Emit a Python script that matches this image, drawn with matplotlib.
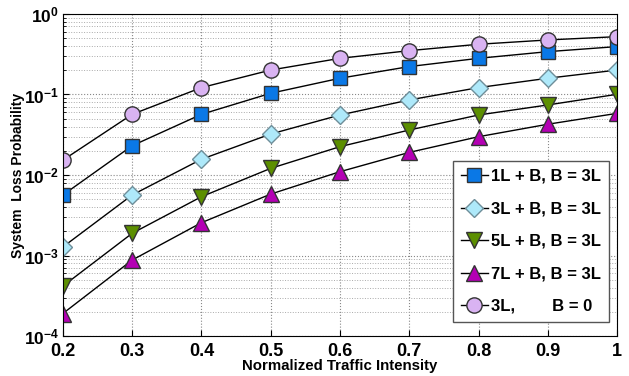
import matplotlib
matplotlib.use("Agg")
import matplotlib.pyplot as plt
from matplotlib.ticker import LogLocator, NullFormatter, FixedLocator

plt.rcParams['font.family'] = ['Liberation Sans', 'DejaVu Sans']
plt.rcParams['font.weight'] = 'bold'
plt.rcParams['mathtext.fontset'] = 'custom'
plt.rcParams['mathtext.rm'] = 'Liberation Sans:bold'
plt.rcParams['mathtext.bf'] = 'Liberation Sans:bold'
plt.rcParams['mathtext.default'] = 'bf'

# traffic intensity
x = [0.2, 0.3, 0.4, 0.5, 0.6, 0.7, 0.8, 0.9, 1.0]

# loss probabilities
loss_1L = [0.00565, 0.0231, 0.0567, 0.1035, 0.159, 0.222, 0.281, 0.340, 0.393]
loss_3L = [0.00128, 0.00565, 0.0157, 0.0323, 0.0556, 0.0855, 0.1217, 0.159, 0.201]
loss_5L = [0.000418, 0.00189, 0.00538, 0.0121, 0.0225, 0.0362, 0.0556, 0.0741, 0.1005]
loss_7L = [0.000191, 0.00088, 0.00256, 0.0058, 0.011, 0.0191, 0.0299, 0.0427, 0.0583]
loss_noB = [0.0153, 0.0567, 0.1217, 0.201, 0.281, 0.350, 0.420, 0.475, 0.522]

labels = ["1L + B, B = 3L", "3L + B, B = 3L", "5L + B, B = 3L",
          "7L + B, B = 3L", "3L,        B = 0"]

fig = plt.figure(figsize=(6.29, 3.76), dpi=100)
ax = fig.add_axes([0.1, 0.106, 0.881, 0.857])

edge = '#333333'
ax.plot(x, loss_1L, '-s', color='black', lw=1, mfc='#0A78E6', mec=edge, ms=10, label=labels[0])
ax.plot(x, loss_3L, '-D', color='black', lw=1, mfc='#AEE9FA', mec='#6E8E99', ms=9, label=labels[1])
ax.plot(x, loss_5L, '-v', color='black', lw=1, mfc='#5C8F00', mec=edge, ms=12, label=labels[2])
ax.plot(x, loss_7L, '-^', color='black', lw=1, mfc='#B400B4', mec=edge, ms=12, label=labels[3])
ax.plot(x, loss_noB, '-o', color='black', lw=1, mfc='#D9B3F2', mec=edge, ms=11, label=labels[4])

ax.set_yscale('log')
ax.set_xlim(0.2, 1.0)
ax.set_ylim(1e-4, 1)
ax.set_xticks(x)
ax.set_xticklabels(['0.2', '0.3', '0.4', '0.5', '0.6', '0.7', '0.8', '0.9', '1'])
ax.yaxis.set_major_locator(FixedLocator([1e-4, 1e-3, 1e-2, 1e-1, 1]))
ax.set_yticklabels([r'$10^{-4}$', r'$10^{-3}$', r'$10^{-2}$', r'$10^{-1}$', r'$10^{0}$'])
ax.yaxis.set_minor_locator(LogLocator(base=10, subs=range(2, 10), numticks=20))
ax.yaxis.set_minor_formatter(NullFormatter())
ax.tick_params(axis='both', which='major', length=4, direction='in')
ax.tick_params(axis='x', which='major', labelsize=13, pad=5)
ax.tick_params(axis='y', which='major', labelsize=12.5, pad=3)
ax.tick_params(axis='both', which='minor', length=2, direction='in')
ax.grid(True, which='major', linestyle=':', color='#888888', lw=0.8)
ax.grid(True, which='minor', axis='y', linestyle=':', color='#aaaaaa', lw=0.7)

ax.set_xlabel('Normalized Traffic Intensity', fontsize=10.8, fontweight='bold', labelpad=-0.5)
ax.set_ylabel('System  Loss Probability', fontsize=10, fontweight='bold')
ax.yaxis.set_label_coords(-0.068, 0.5)

leg = ax.legend(loc='lower right', bbox_to_anchor=(0.986, 0.043), borderaxespad=0,
                fontsize=12, frameon=True, fancybox=False,
                edgecolor='#555555', framealpha=1, handlelength=1.6,
                handletextpad=0.2, labelspacing=1.05, borderpad=0.5)
for t in leg.get_texts():
    t.set_fontweight('bold')

fig.savefig('out.png', dpi=100)
